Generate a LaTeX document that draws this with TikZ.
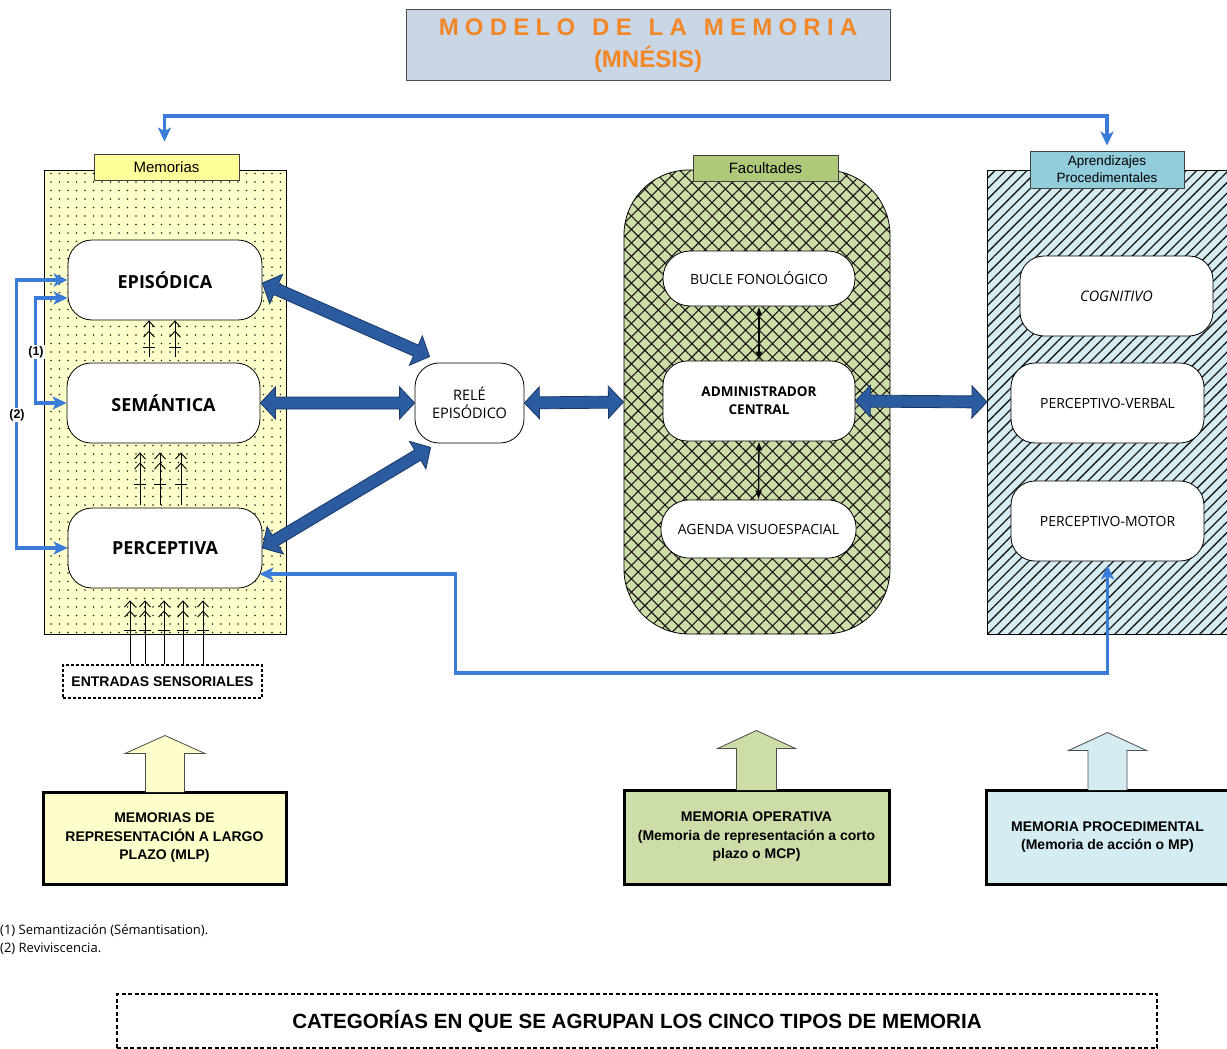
\documentclass[tikz,border=0pt]{standalone}
\usepackage{fontspec}
\setmainfont{Liberation Sans}
\newfontfamily\hand{Open Sans}
\newfontfamily\spaced[LetterSpace=26]{Liberation Sans}
\usetikzlibrary{calc,arrows.meta,patterns.meta}

\definecolor{titlefill}{RGB}{201,214,230}
\definecolor{titleorange}{RGB}{242,135,40}
\definecolor{memfill}{RGB}{255,255,204}
\definecolor{memtag}{RGB}{255,255,153}
\definecolor{facfill}{RGB}{204,221,168}
\definecolor{factag}{RGB}{175,201,122}
\definecolor{profill}{RGB}{212,236,242}
\definecolor{protag}{RGB}{146,205,220}
\definecolor{linkblue}{RGB}{58,124,216}
\definecolor{blockblue}{RGB}{43,92,160}
\definecolor{blockedge}{RGB}{25,55,105}

% dimensions of the double block arrows
\newcommand\ahlen{15pt}
\newcommand\ahwid{16pt}
\newcommand\ashaft{6pt}
\newcommand\blockarrow[2]{%
  \filldraw[blockarrow] (#1)
   -- ($(#1)!\ahlen!(#2)!\ahwid!90:(#2)$)
   -- ($(#1)!\ahlen!(#2)!\ashaft!90:(#2)$)
   -- ($(#2)!\ahlen!(#1)!\ashaft!-90:(#1)$)
   -- ($(#2)!\ahlen!(#1)!\ahwid!-90:(#1)$)
   -- (#2)
   -- ($(#2)!\ahlen!(#1)!\ahwid!90:(#1)$)
   -- ($(#2)!\ahlen!(#1)!\ashaft!90:(#1)$)
   -- ($(#1)!\ahlen!(#2)!\ashaft!-90:(#2)$)
   -- ($(#1)!\ahlen!(#2)!\ahwid!-90:(#2)$)
   -- cycle;}

\tikzset{
  rbox/.style={draw, line width=0.8pt, fill=white, rounded corners=24pt,
    align=center, inner sep=0pt, font=\hand\fontsize{14}{17}\selectfont},
  bigtxt/.style={font=\hand\bfseries\fontsize{18}{21}\selectfont},
  panel/.style={draw, line width=0.8pt, inner sep=0pt},
  tag/.style={draw=black!75, line width=0.8pt, inner sep=0pt, align=center,
    font=\fontsize{15}{16}\selectfont},
  link/.style={draw=linkblue, line width=3.2pt,
    {Stealth[length=14pt,width=13pt,inset=3.5pt]}-{Stealth[length=14pt,width=13pt,inset=3.5pt]}},
  blockarrow/.style={fill=blockblue, draw=blockedge, line width=0.8pt, line join=miter},
  smallarr/.style={line width=1.3pt, {Latex[length=9pt,width=7pt]}-{Latex[length=9pt,width=7pt]}},
  sensor/.style={line width=0.9pt,
    -{Straight Barb[length=6pt,width=11pt,sep=3pt]Straight Barb[length=6pt,width=11pt]}},
  catbox/.style={draw, line width=3pt, inner sep=0pt, align=center,
    font=\bfseries\fontsize{14}{18.5}\selectfont},
  uparr/.style={draw=black!70, line width=0.8pt},
  note/.style={font=\hand\fontsize{13}{15}\selectfont, anchor=west, inner sep=0pt}
}

\begin{document}
\begin{tikzpicture}[x=1pt,y=-1pt]
\useasboundingbox (0,0) rectangle (1227,1049);
\fill[white] (0,0) rectangle (1227,1049);

% title
\node[draw=black!70, line width=1pt, fill=titlefill, minimum width=484, minimum height=71,
      inner sep=0pt, align=center, text=titleorange, font=\bfseries\fontsize{24}{28}\selectfont]
  (title) at (648,45.5)
  {{\spaced MODELO\hspace{4pt} DE\hspace{4pt} LA\hspace{4pt} MEMORIA}\\[4pt](MNÉSIS)};

% the three panels
\node[panel, preaction={fill=memfill}, pattern={Dots[distance=8.5pt,radius=0.9pt]},
      pattern color=black!85, minimum width=242, minimum height=464] (mem) at (165,402) {};
\node[panel, rounded corners=65pt, preaction={fill=facfill},
      pattern={Hatch[angle=45,distance=9.5pt,line width=1.1pt]}, pattern color=black!90,
      minimum width=266, minimum height=464] (fac) at (757,402) {};
\node[panel, preaction={fill=profill},
      pattern={Lines[angle=45,distance=7.5pt,line width=1.3pt]}, pattern color=black!90,
      minimum width=260, minimum height=464, anchor=west] (pro) at (987,402) {};

% panel labels
\node[tag, fill=memtag, minimum width=145, minimum height=26] (memt) at (166.5,167) {Memorias};
\node[tag, fill=factag, minimum width=145, minimum height=26] (fact) at (765.5,168) {Facultades};
\node[tag, fill=protag, minimum width=154, minimum height=37, font=\fontsize{13.5}{17}\selectfont]
  (prot) at (1107,169.5) {Aprendizajes\\Procedimentales};

% memories
\node[rbox, bigtxt, minimum width=194, minimum height=80] (epi) at (165,280) {EPISÓDICA};
\node[rbox, bigtxt, minimum width=193, minimum height=80] (sem) at (163.5,403) {SEMÁNTICA};
\node[rbox, bigtxt, minimum width=194, minimum height=80] (perc) at (165,548) {PERCEPTIVA};
\node[rbox, minimum width=109, minimum height=80, font=\hand\fontsize{14.5}{18}\selectfont]
  (rele) at (469.5,403) {RELÉ\\EPISÓDICO};

% faculties
\node[rbox, rounded corners=27pt, minimum width=192, minimum height=55] (buc) at (759,278.5) {BUCLE FONOLÓGICO};
\node[rbox, font=\hand\bfseries\fontsize{13.5}{18}\selectfont, minimum width=192, minimum height=80]
  (adm) at (759,401) {ADMINISTRADOR\\CENTRAL};
\node[rbox, rounded corners=28pt, minimum width=195, minimum height=58] (agd) at (758.5,529) {AGENDA VISUOESPACIAL};

% procedural learning
\node[rbox, minimum width=193, minimum height=80, font=\hand\itshape\fontsize{14.5}{17}\selectfont]
  (cog) at (1116.5,296) {COGNITIVO};
\node[rbox, minimum width=193, minimum height=80] (pv) at (1107.5,403) {PERCEPTIVO-VERBAL};
\node[rbox, minimum width=193, minimum height=80] (pm) at (1107.5,521) {PERCEPTIVO-MOTOR};

% sensory input
\node[draw, dash pattern=on 3pt off 2pt, line width=1.3pt, minimum width=199, minimum height=33,
      inner sep=0pt, font=\bfseries\fontsize{14}{16}\selectfont] (ent) at (162.5,681.5) {ENTRADAS SENSORIALES};

% upward flows between memories
\foreach \x in {149,175}{
  \draw[sensor, shorten <=6pt] (sem.north -| \x,0) -- (epi.south -| \x,0);
  \draw[line width=0.9pt] (\x-6,347) -- (\x+6,347);}
\foreach \x in {140,160,181}{
  \draw[sensor, shorten >=9pt, shorten <=3pt] (perc.north -| \x,0) -- (sem.south -| \x,0);
  \draw[line width=0.9pt] (\x-6,484) -- (\x+6,484);}
\foreach \x in {130,145,164,183,203}{
  \draw[sensor, shorten >=12pt] (ent.north -| \x,0) -- (perc.south -| \x,0);
  \draw[line width=0.9pt] (\x-6,630) -- (\x+6,630);}

% inner arrows of the faculties
\draw[smallarr] (buc.south) -- (adm.north);
\draw[smallarr] (adm.south) -- (agd.north);

% double block arrows
\coordinate (e1) at ([yshift=-3pt]epi.east);
\coordinate (r1) at ([shift={(15,-6)}]rele.north west);
\coordinate (r3) at ([shift={(16,4)}]rele.south west);
\blockarrow{e1}{r1}
\blockarrow{sem.east}{rele.west}
\blockarrow{perc.east}{r3}
\blockarrow{rele.east}{fac.west}
\blockarrow{adm.east}{pro.west}

% blue links
\coordinate (topline) at (0,116);
\draw[link, shorten <=12pt, shorten >=5pt] ([xshift=-2pt]memt.north) -- ([xshift=-2pt]memt.north |- topline) -| (prot.north);
\draw[link] ([yshift=-18pt]epi.west) -- ++(-32,0) |- (sem.west);
\draw[link] (epi.west) -- ++(-51,0) |- (perc.west);
\node[fill=white, inner sep=1pt, font=\bfseries\fontsize{12.5}{14}\selectfont] (n1) at (36,352) {(1)};
\node[fill=white, inner sep=1pt, font=\bfseries\fontsize{12.5}{14}\selectfont] (n2) at (17,415) {(2)};
\coordinate (lowline) at (0,673);
\draw[link, shorten <=-3pt, shorten >=4pt] ([yshift=-26pt]perc.east) -- ++(193,0) |- (pm.south |- lowline) -- (pm.south);

% categories
\node[catbox, fill=memfill, minimum width=243, minimum height=92] (b1) at (164.5,838)
  {MEMORIAS DE\\REPRESENTACIÓN A LARGO\\PLAZO (MLP)};
\node[catbox, fill=facfill, minimum width=265, minimum height=94] (b2) at (756.5,837)
  {MEMORIA OPERATIVA\\(Memoria de representación a corto\\plazo o MCP)};
\node[catbox, fill=profill, minimum width=242, minimum height=94] (b3) at (1107.5,837)
  {MEMORIA PROCEDIMENTAL\\(Memoria de acción o MP)};

\path[uparr, fill=memfill] ([shift={(-19,1.5)}]b1.north) -- ++(0,-38.5) -- ++(-20.5,0)
  -- ++(40,-18) -- ++(40,18) -- ++(-20.5,0) -- ++(0,38.5);
\path[uparr, fill=facfill] ([shift={(-20,1.5)}]b2.north) -- ++(0,-41.5) -- ++(-19,0)
  -- ++(39,-18) -- ++(39,18) -- ++(-19,0) -- ++(0,41.5);
\path[uparr, fill=profill] ([shift={(-19.5,1.5)}]b3.north) -- ++(0,-39.5) -- ++(-19.5,0)
  -- ++(39,-18) -- ++(39,18) -- ++(-19.5,0) -- ++(0,39.5);

% notes
\node[note] (f1) at (0,931) {(1) Semantización (Sémantisation).};
\node[note] (f2) at (0,949) {(2) Reviviscencia.};

% caption frame
\node[draw, dash pattern=on 4pt off 2.5pt, line width=2.2pt, minimum width=1040, minimum height=54,
      inner sep=0pt, font=\bfseries\fontsize{20.6}{22}\selectfont] (cap) at (637,1021)
  {CATEGORÍAS EN QUE SE AGRUPAN LOS CINCO TIPOS DE MEMORIA};
\end{tikzpicture}
\end{document}
